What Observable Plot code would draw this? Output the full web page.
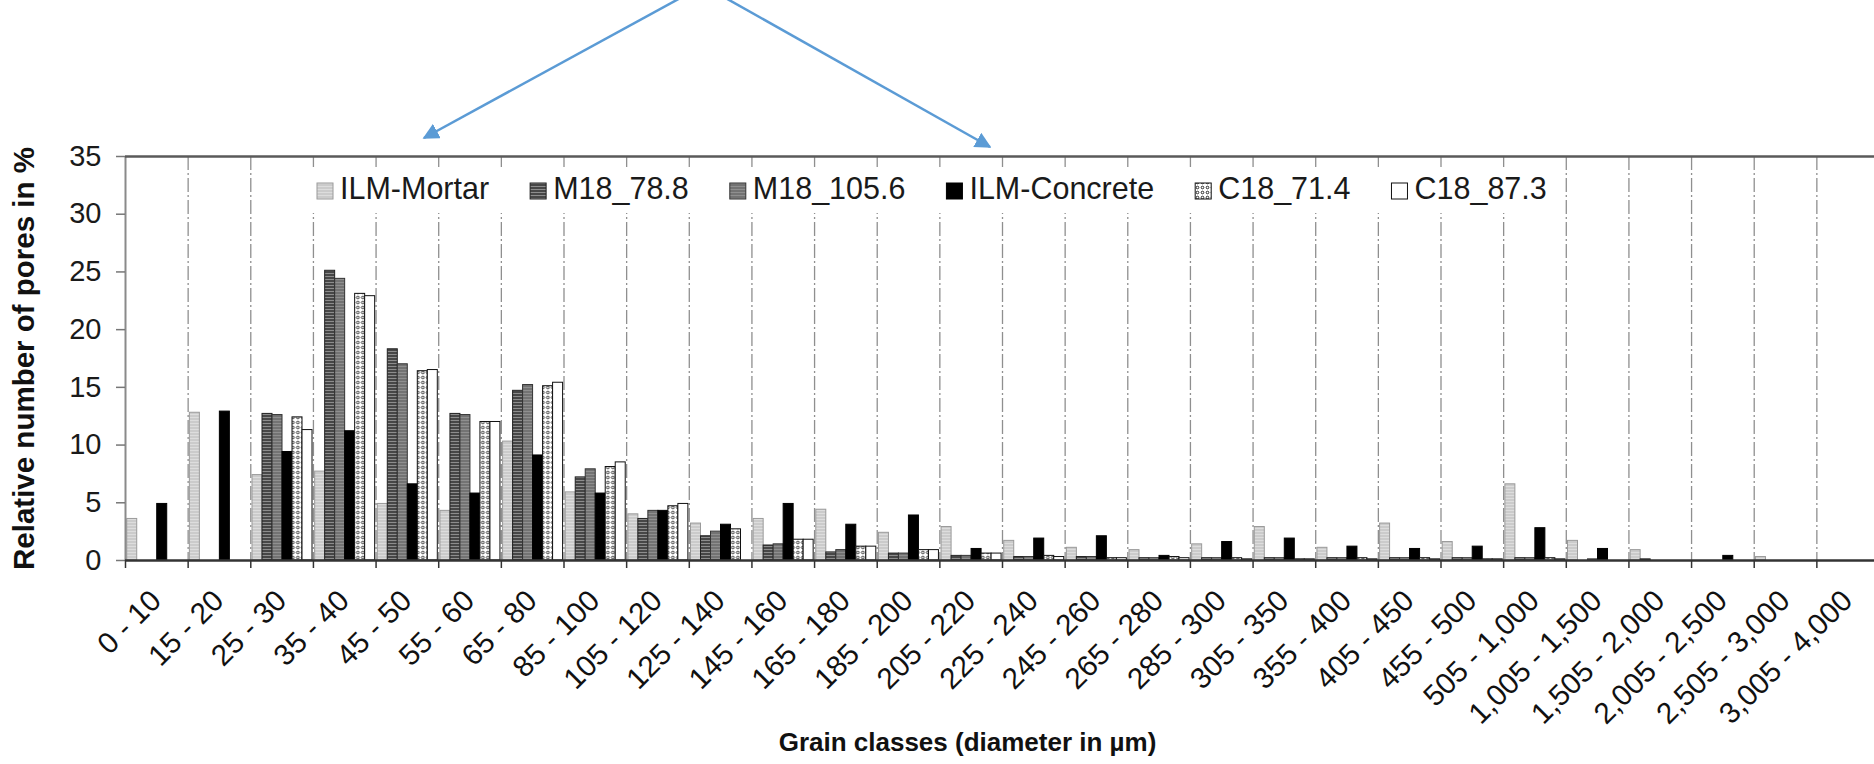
<!DOCTYPE html>
<html>
<head>
<meta charset="utf-8">
<script src="https://cdn.jsdelivr.net/npm/d3@7"></script>
<script src="https://cdn.jsdelivr.net/npm/@observablehq/plot@0.6"></script>
<style>
  html, body { margin: 0; padding: 0; background: #fff; overflow: hidden; }
  #wrap { position: relative; width: 1874px; height: 764px; overflow: hidden;
          font-family: "Liberation Sans", Arial, sans-serif; }
  #wrap > svg, #wrap > figure { position: absolute; left: 0; top: 0; margin: 0; }
</style>
</head>
<body>
<!-- Fill patterns for the hatched / dotted bar series -->
<svg width="0" height="0" style="position:absolute">
  <defs>
    <pattern id="fillMortar" width="4" height="3" patternUnits="userSpaceOnUse">
      <rect width="4" height="3" fill="#cbcbcb"></rect>
      <rect width="4" height="1" fill="#dddddd"></rect>
    </pattern>
    <pattern id="fillM788" width="4" height="3" patternUnits="userSpaceOnUse">
      <rect width="4" height="3" fill="#474747"></rect>
      <rect width="4" height="1" fill="#8d8d8d"></rect>
    </pattern>
    <pattern id="fillM1056" width="4" height="3" patternUnits="userSpaceOnUse">
      <rect width="4" height="3" fill="#737373"></rect>
      <rect width="4" height="1" fill="#8f8f8f"></rect>
    </pattern>
    <pattern id="fillC714" width="5" height="5" patternUnits="userSpaceOnUse">
      <rect width="5" height="5" fill="#ffffff"></rect>
      <circle cx="2.5" cy="2.5" r="1.3" fill="none" stroke="#111" stroke-width="0.9"></circle>
    </pattern>
  </defs>
</svg>
<div id="wrap"></div>
<script>
// Grain size classes (diameter in µm)
const categories = [
  "0 - 10", "15 - 20", "25 - 30", "35 - 40", "45 - 50", "55 - 60", "65 - 80",
  "85 - 100", "105 - 120", "125 - 140", "145 - 160", "165 - 180", "185 - 200",
  "205 - 220", "225 - 240", "245 - 260", "265 - 280", "285 - 300", "305 - 350",
  "355 - 400", "405 - 450", "455 - 500", "505 - 1,000", "1,005 - 1,500",
  "1,505 - 2,000", "2,005 - 2,500", "2,505 - 3,000", "3,005 - 4,000"
];

const seriesNames = ["ILM-Mortar", "M18_78.8", "M18_105.6", "ILM-Concrete", "C18_71.4", "C18_87.3"];

// Relative number of pores in % per class
const ilmMortar   = [3.6, 12.8, 7.4, 7.7, 4.9, 4.3, 10.3, 5.9, 4.0, 3.2, 3.6, 4.4, 2.4, 2.9, 1.7, 1.1, 0.9, 1.4, 2.9, 1.1, 3.2, 1.6, 6.6, 1.7, 0.9, 0, 0.3, 0];
const m18_78_8    = [0, 0, 12.7, 25.1, 18.3, 12.7, 14.7, 7.2, 3.6, 2.1, 1.3, 0.7, 0.6, 0.4, 0.3, 0.3, 0.2, 0.2, 0.2, 0.2, 0.2, 0.2, 0.2, 0, 0.1, 0, 0, 0];
const m18_105_6   = [0, 0, 12.6, 24.4, 17.0, 12.6, 15.2, 7.9, 4.3, 2.5, 1.4, 0.9, 0.6, 0.4, 0.3, 0.3, 0.2, 0.2, 0.2, 0.2, 0.2, 0.2, 0.2, 0.1, 0, 0, 0, 0];
const ilmConcrete = [4.9, 12.9, 9.4, 11.2, 6.6, 5.8, 9.1, 5.8, 4.3, 3.1, 4.9, 3.1, 3.9, 1.0, 1.9, 2.1, 0.4, 1.6, 1.9, 1.2, 1.0, 1.2, 2.8, 1.0, 0, 0.4, 0, 0];
const c18_71_4    = [0, 0, 12.4, 23.1, 16.4, 12.0, 15.1, 8.1, 4.7, 2.7, 1.8, 1.2, 0.9, 0.6, 0.4, 0.2, 0.3, 0.2, 0.1, 0.2, 0.2, 0.1, 0.2, 0, 0, 0, 0, 0];
const c18_87_3    = [0, 0, 11.3, 22.9, 16.5, 12.0, 15.4, 8.5, 4.9, 0, 1.8, 1.2, 0.9, 0.6, 0.3, 0.2, 0.2, 0.1, 0.1, 0.1, 0.1, 0.1, 0.1, 0, 0, 0, 0, 0];

const yTicks = [0, 5, 10, 15, 20, 25, 30, 35];
const xTitle = "Grain classes (diameter in µm)";
const yTitle = "Relative number of pores in %";

const seriesValues = [ilmMortar, m18_78_8, m18_105_6, ilmConcrete, c18_71_4, c18_87_3];

// Appearance of each series
const seriesFill   = ["url(#fillMortar)", "url(#fillM788)", "url(#fillM1056)", "#000000", "url(#fillC714)", "#ffffff"];
const seriesStroke = ["#9a9a9a", "#222222", "#333333", "#000000", "#111111", "#111111"];

const W = 1880, H = 764, ML = 125, MR = 1, MT = 156, MB = 204;
const bw = (W - ML - MR) / categories.length;   // width of one class band
const barW = 10;                                 // width of a single bar
const inset = (bw - barW) / 2;

const rows = seriesNames.flatMap((s, i) =>
  categories.map((c, j) => ({category: c, series: s, value: seriesValues[i][j]}))
);

const barMarks = seriesNames.map((s, i) =>
  Plot.barY(rows.filter(d => d.series === s && d.value > 0), {
    x: "category", y: "value",
    fill: seriesFill[i], stroke: seriesStroke[i], strokeWidth: 1,
    insetLeft: inset, insetRight: inset,
    dx: (i - 2.5) * barW + 0.4
  })
);

const chart = Plot.plot({
  width: W, height: H,
  marginLeft: ML, marginRight: MR, marginTop: MT, marginBottom: MB,
  style: {fontFamily: "'Liberation Sans', Arial, sans-serif", background: "transparent", color: "#1a1a1a", overflow: "visible", maxWidth: "none"},
  x: {domain: categories, padding: 0, round: false, axis: null},
  y: {domain: [0, 35], axis: null},
  marks: [
    // dashed separators between classes
    Plot.gridX(categories.slice(1), {dx: -bw / 2, stroke: "#8f8f8f", strokeOpacity: 1, strokeWidth: 1.3, strokeDasharray: "14,3,2,3"}),
    ...barMarks,
    // y axis line and ticks
    Plot.gridX(categories.slice(0, 1), {dx: -bw / 2, stroke: "#8a8a8a", strokeOpacity: 1, strokeWidth: 2}),
    Plot.axisY({ticks: yTicks, tickSize: 9, tickPadding: 15, fontSize: 29, label: null, stroke: "#777", strokeWidth: 1.5, tickFormat: d => d}),
    // top border and x axis line
    Plot.ruleY([35], {stroke: "#5a5a5a", strokeWidth: 2.5}),
    Plot.ruleY([0], {stroke: "#333", strokeWidth: 2.5}),
    // class boundary ticks
    Plot.axisX({anchor: "bottom", tickSize: 8, tickFormat: () => "", label: null, dx: -bw / 2, stroke: "#333", strokeWidth: 1.5}),
    // rotated class labels
    Plot.text(categories, {x: d => d, text: d => d, frameAnchor: "bottom", rotate: -45, textAnchor: "end", lineAnchor: "bottom", dx: 6, dy: 42, fontSize: 29.5, fill: "#111"}),
    // axis titles
    Plot.text([yTitle], {frameAnchor: "left", rotate: -90, dx: -101, textAnchor: "middle", fontSize: 29.5, fontWeight: "bold", fill: "#111"}),
    Plot.text([xTitle], {frameAnchor: "bottom", dx: -35, dy: 190, lineAnchor: "bottom", fontSize: 26, fontWeight: "bold", fill: "#111"})
  ]
});

const wrap = document.getElementById("wrap");
wrap.appendChild(chart);

// Overlay: legend inside the plot area and the two pointing arrows above it
const ov = d3.select(wrap).append("svg")
  .attr("width", 1874).attr("height", 764)
  .style("font-family", "'Liberation Sans', Arial, sans-serif");

ov.append("defs").append("marker")
  .attr("id", "arrowHead").attr("viewBox", "0 0 10 10")
  .attr("refX", 9).attr("refY", 5)
  .attr("markerWidth", 6.5).attr("markerHeight", 6.5)
  .attr("markerUnits", "strokeWidth").attr("orient", "auto")
  .append("path").attr("d", "M0,0 L10,5 L0,10 Z").attr("fill", "#5b9bd5");

const legendBox = ov.append("rect")
  .attr("x", 305).attr("y", 167).attr("height", 46)
  .attr("fill", "#fff");

let lx = 317;
seriesNames.forEach((s, i) => {
  ov.append("rect")
    .attr("x", lx).attr("y", 183).attr("width", 16).attr("height", 16)
    .attr("fill", seriesFill[i]).attr("stroke", seriesStroke[i]).attr("stroke-width", 1);
  const t = ov.append("text")
    .attr("x", lx + 23).attr("y", 199)
    .attr("font-size", 30.5).attr("fill", "#1a1a1a")
    .text(s);
  lx += 23 + t.node().getComputedTextLength() + 41;
});
legendBox.attr("width", lx - 41 + 15 - 305);

const arrows = [
  [[684, -4], [424, 138]],
  [[722, -4], [990, 147]]
];
arrows.forEach(([a, b]) => {
  ov.append("line")
    .attr("x1", a[0]).attr("y1", a[1]).attr("x2", b[0]).attr("y2", b[1])
    .attr("stroke", "#5b9bd5").attr("stroke-width", 2.5)
    .attr("marker-end", "url(#arrowHead)");
});
</script>
</body>
</html>
